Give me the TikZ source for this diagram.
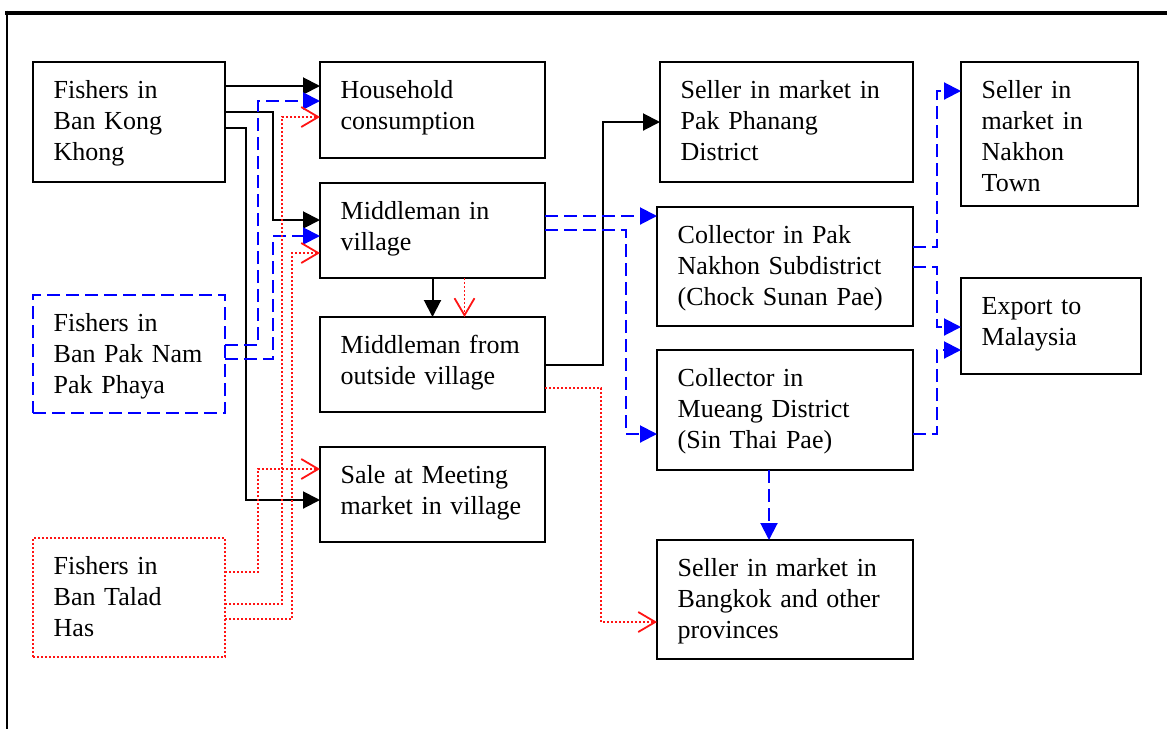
\documentclass[tikz,border=0pt]{standalone}
\usepackage{fontspec}
\setmainfont{Liberation Serif}
\usetikzlibrary{arrows.meta}
\definecolor{flowblue}{RGB}{0,0,255}
\definecolor{flowred}{RGB}{255,20,20}
\tikzset{
  box/.style={draw, line width=2pt, rectangle, inner sep=0pt, outer sep=0pt},
  bluebox/.style={box, draw=flowblue, dash pattern=on 13pt off 6pt},
  redbox/.style={box, draw=flowred, line width=1.6pt, dash pattern=on 2pt off 2pt},
  txt/.style={anchor=base west, inner sep=0pt, text width=260pt, align=left,
    font=\fontsize{26}{31}\selectfont},
  blk/.style={line width=2pt, -{Triangle[length=17pt,width=17pt]}},
  blu/.style={line width=2pt, flowblue, dash pattern=on 13pt off 6pt,
    -{Triangle[length=17pt,width=17pt]}},
  rd/.style={line width=1.6pt, flowred, dash pattern=on 2pt off 2pt,
    -{Straight Barb[length=17pt,width=20pt,line width=1.8pt]}},
}
\newcommand\boxtext[2]{\node[txt] (#1t) at ([xshift=20.5pt,yshift=-36.5pt]#1.north west) {#2};}
\begin{document}
\begin{tikzpicture}[x=1pt,y=-1pt]
\useasboundingbox (0,0) rectangle (1167,729);
% open frame: thick top rule and thin left rule
\draw[line width=4pt] (5,12.5) -- (1167,12.5);
\draw[line width=2pt] (6.5,10.5) -- (6.5,729);

% sources
\node[box, minimum width=192pt, minimum height=120pt] (f1) at (129,122) {};
\node[bluebox, minimum width=192pt, minimum height=118pt] (f2) at (129,354) {};
\node[redbox, minimum width=192pt, minimum height=119pt] (f3) at (129,597.5) {};
% village level
\node[box, minimum width=225pt, minimum height=96pt] (hh) at (432.5,110) {};
\node[box, minimum width=225pt, minimum height=95pt] (mv) at (432.5,230.5) {};
\node[box, minimum width=225pt, minimum height=95pt] (mo) at (432.5,364.5) {};
\node[box, minimum width=225pt, minimum height=95pt] (sm) at (432.5,494.5) {};
% district level
\node[box, minimum width=253pt, minimum height=120pt] (pp) at (786.5,122) {};
\node[box, minimum width=256pt, minimum height=119pt] (cp) at (785,266.5) {};
\node[box, minimum width=256pt, minimum height=120pt] (cm) at (785,410) {};
\node[box, minimum width=256pt, minimum height=119pt] (bk) at (785,599.5) {};
% final markets
\node[box, minimum width=177pt, minimum height=144pt] (nt) at (1049.5,134) {};
\node[box, minimum width=180pt, minimum height=96pt] (em) at (1051,326) {};

\boxtext{f1}{Fishers in\\Ban Kong\\Khong}
\boxtext{f2}{Fishers in\\Ban Pak Nam\\Pak Phaya}
\boxtext{f3}{Fishers in\\Ban Talad\\Has}
\boxtext{hh}{Household\\consumption}
\boxtext{mv}{Middleman in\\village}
\boxtext{mo}{Middleman from\\outside village}
\boxtext{sm}{Sale at Meeting\\market in village}
\boxtext{pp}{Seller in market in\\Pak Phanang\\District}
\boxtext{cp}{Collector in Pak\\Nakhon Subdistrict\\(Chock Sunan Pae)}
\boxtext{cm}{Collector in\\Mueang District\\(Sin Thai Pae)}
\boxtext{bk}{Seller in market in\\Bangkok and other\\provinces}
\boxtext{nt}{Seller in\\market in\\Nakhon\\Town}
\boxtext{em}{Export to\\Malaysia}

% flows from Ban Kong Khong
\draw[blk] ([yshift=-24pt]f1.north east) -- ([yshift=-24pt]hh.north west);
\draw[blk] ([yshift=-50pt]f1.north east) -- ++(48,0) |- ([yshift=-37pt]mv.north west);
\draw[blk] ([yshift=-66pt]f1.north east) -- ++(21,0) |- ([yshift=-53pt]sm.north west);
% flows from Ban Pak Nam Pak Phaya
\draw[blu] ([yshift=-50pt]f2.north east) -- ++(33,0) |- ([yshift=-39pt]hh.north west);
\draw[blu] ([yshift=-64pt]f2.north east) -- ++(48,0) |- ([yshift=-53pt]mv.north west);
% flows from Ban Talad Has
\draw[rd] ([yshift=-34pt]f3.north east) -- ++(33,0) |- ([yshift=-22pt]sm.north west);
\draw[rd] ([yshift=-66pt]f3.north east) -- ++(57,0) |- ([yshift=-55pt]hh.north west);
\draw[rd] ([yshift=-81pt]f3.north east) -- ++(67,0) |- ([yshift=-70pt]mv.north west);
% middlemen
\draw[blk] (mv.south) -- (mo.north);
\draw[rd] ([xshift=32pt]mv.south) -- ([xshift=32pt]mo.north);
\draw[blk] ([yshift=-48pt]mo.north east) -- ++(58,0) |- ([yshift=-60pt]pp.north west);
\draw[blu] ([yshift=-33pt]mv.north east) -- ([yshift=-9pt]cp.north west);
\draw[blu] ([yshift=-47pt]mv.north east) -- ++(81,0) |- ([yshift=-84pt]cm.north west);
\draw[rd] ([yshift=-71pt]mo.north east) -- ++(56,0) |- ([yshift=-82pt]bk.north west);
% collectors
\draw[blu] ([xshift=-16pt]cm.south) -- ([xshift=-16pt]bk.north);
\draw[blu] ([yshift=-40pt]cp.north east) -- ++(24,0) |- ([yshift=-29pt]nt.north west);
\draw[blu] ([yshift=-60pt]cp.north east) -- ++(24,0) |- ([yshift=-49pt]em.north west);
\draw[blu] ([yshift=-84pt]cm.north east) -- ++(24,0) |- ([yshift=-72pt]em.north west);
\end{tikzpicture}
\end{document}
